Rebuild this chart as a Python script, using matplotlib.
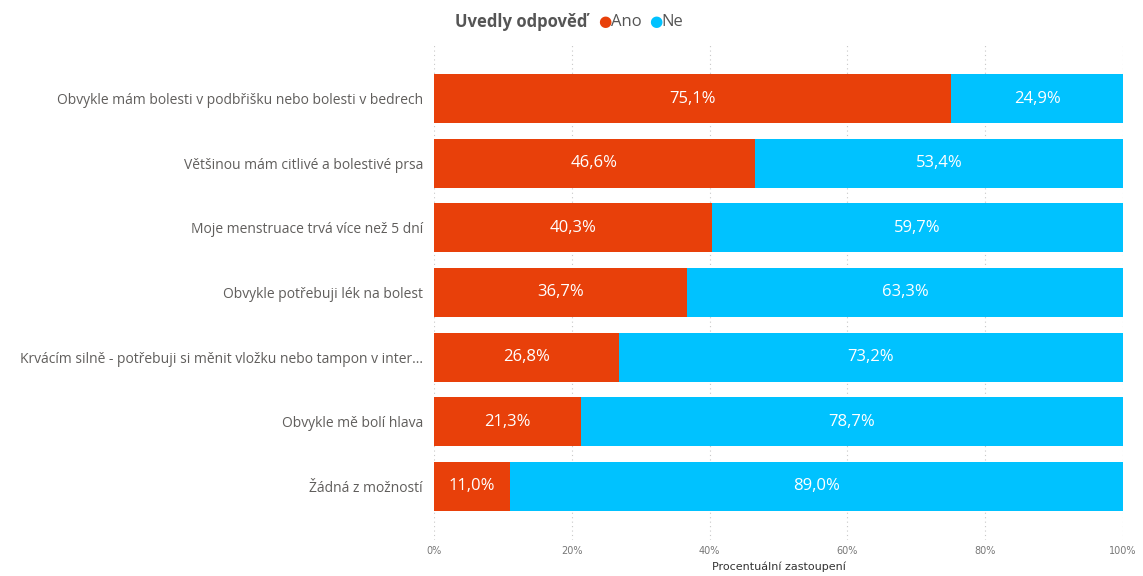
import matplotlib.pyplot as plt
import numpy as np

categories = [
    'Obvykle mám bolesti v podbřišku nebo bolesti v bedrech',
    'Většinou mám citlivé a bolestivé prsa',
    'Moje menstruace trvá více než 5 dní',
    'Obvykle potřebuji lék na bolest',
    'Krvácím silně - potřebuji si měnit vložku nebo tampon v inter...',
    'Obvykle mě bolí hlava',
    'Žádná z možností',
]
ano = [75.1, 46.6, 40.3, 36.7, 26.8, 21.3, 11.0]
ne = [24.9, 53.4, 59.7, 63.3, 73.2, 78.7, 89.0]
xticks = [0, 20, 40, 60, 80, 100]

c_ano = '#E8400A'
c_ne = '#00C2FF'
font = 'Open Sans'

fig = plt.figure(figsize=(11.43, 5.76), dpi=100)
ax = fig.add_axes([0.3797, 0.0625, 0.6028, 0.8594])

y = np.arange(len(categories))
ax.barh(y, ano, height=0.76, color=c_ano, zorder=2)
ax.barh(y, ne, left=ano, height=0.76, color=c_ne, zorder=2)

for i in range(len(categories)):
    ax.text(ano[i] / 2, y[i], f'{ano[i]:.1f}%'.replace('.', ','), ha='center', va='center',
            color='white', fontsize=12, family=font)
    ax.text(ano[i] + ne[i] / 2, y[i], f'{ne[i]:.1f}%'.replace('.', ','), ha='center', va='center',
            color='white', fontsize=12, family=font)

ax.set_ylim(6.83, -0.83)
ax.set_xlim(0, 100)
ax.set_yticks(y)
ax.set_yticklabels(categories, fontsize=10, color='#605E5C', family=font)
ax.set_xticks(xticks)
ax.set_xticklabels([f'{t}%' for t in xticks], fontsize=7, color='#777777')
ax.tick_params(length=0, pad=8)
ax.tick_params(axis='x', pad=4)
ax.set_xlabel('Procentuální zastoupení', fontsize=8, color='#333333', labelpad=4)
ax.grid(axis='x', color='#C8C8C8', linestyle=(0, (1, 3)), linewidth=0.8, zorder=0)
for s in ax.spines.values():
    s.set_visible(False)

# legend
fig.text(0.398, 0.962, 'Uvedly odpověď', fontsize=12, fontweight='bold', color='#555555',
         family=font, va='center')
fig.text(0.5235, 0.962, '●', fontsize=11, color=c_ano, va='center')
fig.text(0.5345, 0.962, 'Ano', fontsize=12, color='#555555', family=font, va='center')
fig.text(0.5675, 0.962, '●', fontsize=11, color=c_ne, va='center')
fig.text(0.5785, 0.962, 'Ne', fontsize=12, color='#555555', family=font, va='center')

plt.savefig('out.png', dpi=100)
